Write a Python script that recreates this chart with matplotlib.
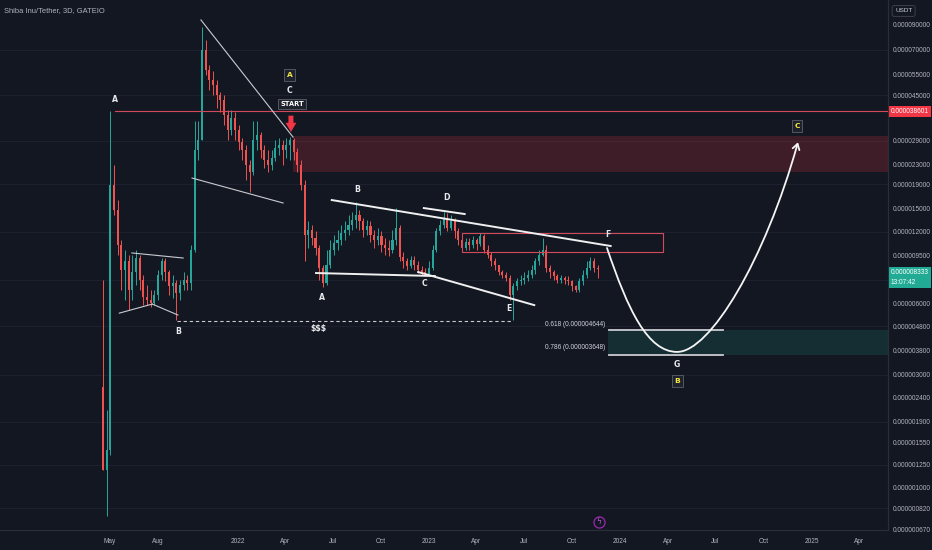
import numpy as np
import pandas as pd
import matplotlib
matplotlib.use("Agg")
import matplotlib.pyplot as plt
import matplotlib.dates as mdates
from matplotlib.path import Path
from matplotlib.patches import FancyArrowPatch, Rectangle
from matplotlib import transforms
from matplotlib import font_manager as fm

# ---------------- data (prices in millionths of USDT) ----------------
U = 1e-6
candle_start = "2021-04-18"      # weekly candles
first_open = 2.66
closes = [1.19, 1.45, 18.87, 14.81, 10.54, 8.28, 9.03, 6.81, 8.12, 9.30,
          7.52, 6.37, 6.19, 6.01, 6.49, 7.88, 9.03, 8.12, 7.09, 7.30,
          6.62, 7.16, 7.52, 7.30, 10.05, 26.50, 29.21, 69.9, 57.6, 52.3,
          49.8, 45.2, 43.0, 37.2, 32.2, 36.2, 32.2, 28.6, 26.5, 22.9,
          21.4, 29.2, 30.65, 26.5, 24.06, 22.9, 24.5, 27.0, 27.8, 26.5,
          27.8, 29.2, 26.0, 22.9, 18.9, 11.6, 12.2, 11.3, 10.25, 8.44,
          7.30, 8.68, 10.05, 10.76, 11.07, 11.85, 12.2, 12.8, 13.4, 14.1,
          13.3, 12.2, 12.7, 11.6, 11.07, 11.5, 10.54, 10.25, 10.05, 11.07,
          12.4, 9.39, 9.03, 8.60, 9.12, 8.68, 8.28, 8.12, 7.96, 8.44,
          10.05, 12.1, 12.8, 13.7, 12.4, 13.3, 12.1, 11.07, 10.25, 10.86,
          10.54, 11.07, 10.65, 11.5, 10.05, 9.57, 9.03, 8.68, 8.12, 7.88,
          7.66, 6.49, 7.09, 7.45, 7.52, 7.66, 7.88, 8.28, 9.03, 9.57,
          10.05, 8.44, 8.12, 7.81, 7.52, 7.66, 7.52, 7.45, 7.09, 6.81,
          7.45, 7.88, 8.44, 9.03, 8.44, 8.333]
highs = [7.52, 2.13, 38.6, 22.92, 16.32, 11.07, 10.05, 9.57, 9.57, 10.05,
         9.57, 7.88, 7.16, 6.81, 6.81, 8.28, 9.30, 9.30, 8.28, 7.88,
         7.52, 7.52, 8.12, 7.88, 10.54, 35.13, 35.13, 87.4, 77.0, 60.4,
         57.1, 52.3, 46.5, 45.2, 39.1, 39.1, 38.3, 33.8, 29.8, 27.8,
         24.06, 35.1, 35.1, 31.6, 27.8, 26.5, 26.5, 29.2, 29.8, 29.2,
         29.8, 30.1, 29.8, 27.0, 24.06, 19.8, 13.3, 12.8, 12.1, 10.54,
         8.68, 10.05, 11.07, 11.6, 12.2, 12.8, 13.3, 14.11, 14.5, 16.0,
         14.8, 13.7, 13.4, 13.3, 12.2, 12.4, 12.1, 11.3, 11.07, 12.2,
         15.1, 12.8, 9.86, 9.30, 9.49, 9.49, 9.03, 8.60, 8.44, 9.03,
         10.54, 12.4, 13.4, 14.5, 14.4, 14.1, 13.7, 12.4, 11.6, 11.3,
         11.3, 11.5, 11.3, 11.85, 11.74, 10.54, 9.86, 9.30, 8.68, 8.28,
         8.12, 7.88, 7.30, 7.66, 7.88, 8.12, 8.28, 8.68, 9.30, 10.05,
         11.3, 10.54, 8.68, 8.28, 7.96, 7.88, 7.81, 7.81, 7.52, 7.16,
         7.66, 8.28, 9.03, 9.39, 9.30, 8.68]
lows = [1.19, 0.76, 1.38, 14.11, 9.57, 6.81, 6.19, 5.61, 6.19, 7.16,
        6.81, 5.89, 5.89, 5.78, 5.89, 6.19, 7.52, 7.45, 6.49, 6.31,
        5.10, 6.19, 6.81, 6.81, 6.81, 9.86, 24.06, 29.21, 54.9, 47.4,
        45.2, 39.85, 38.3, 33.8, 29.21, 30.65, 29.2, 26.5, 24.06, 19.8,
        17.6, 20.8, 26.5, 24.5, 22.3, 21.4, 21.8, 23.8, 25.2, 22.9,
        24.5, 24.06, 24.06, 21.4, 18.0, 9.03, 10.25, 10.54, 9.57, 7.52,
        7.02, 7.16, 8.44, 9.57, 10.05, 10.54, 11.07, 11.6, 12.2, 12.4,
        12.2, 11.4, 11.6, 10.86, 10.25, 10.54, 9.86, 9.57, 9.49, 9.76,
        10.54, 9.03, 8.44, 8.28, 8.44, 8.28, 8.04, 7.88, 7.81, 7.81,
        8.28, 9.86, 11.6, 12.4, 12.1, 12.2, 11.3, 10.54, 9.86, 10.05,
        10.05, 10.25, 10.05, 10.45, 9.76, 9.30, 8.60, 8.28, 7.88, 7.66,
        7.45, 6.19, 5.10, 6.81, 7.16, 7.23, 7.45, 7.66, 7.96, 8.68,
        9.49, 8.12, 7.66, 7.52, 7.30, 7.30, 7.23, 7.16, 6.75, 6.68,
        6.68, 7.16, 7.66, 8.28, 8.12, 7.66]

y_ticks = [90, 70, 55, 45, 29, 23, 19, 15, 12, 9.5, 6.0, 4.8, 3.8, 3.0,
           2.4, 1.9, 1.55, 1.25, 1.0, 0.82, 0.67]
grid_levels = [70, 45, 29, 19, 12, 7.5, 4.8, 3.0, 1.9, 1.25, 0.82]
x_tick_dates = ["2021-05-01", "2021-08-01", "2022-01-01", "2022-04-01", "2022-07-01",
                "2022-10-01", "2023-01-01", "2023-04-01", "2023-07-01", "2023-10-01",
                "2024-01-01", "2024-04-01", "2024-07-01", "2024-10-01", "2025-01-01",
                "2025-04-01"]
x_tick_labels = ["May", "Aug", "2022", "Apr", "Jul", "Oct", "2023", "Apr", "Jul", "Oct",
                 "2024", "Apr", "Jul", "Oct", "2025", "Apr"]

may_high = 38.601
last_price = 8.333
fib_618 = 4.644
fib_786 = 3.648
supply_zone = (21.4, 30.4)

# projected path (cubic Bezier control points)
curve_dates = ["2023-12-07", "2024-01-16", "2024-02-23", "2024-04-19",
               "2024-06-21", "2024-10-04", "2024-12-06"]
curve_prices = [10.25, 5.61, 3.74, 3.74, 3.74, 9.12, 28.6]

# trend lines: (date0, price0, date1, price1)
thin_lines = [("2021-10-22", 93.6, "2022-04-16", 30.06),
              ("2021-10-05", 20.2, "2022-03-28", 15.86),
              ("2021-06-12", 9.77, "2021-09-18", 9.30),
              ("2021-05-19", 5.45, "2021-07-21", 5.95),
              ("2021-07-21", 5.95, "2021-09-08", 5.35)]
thick_lines = [("2022-06-29", 16.32, "2023-12-14", 10.45),
               ("2022-12-22", 15.1, "2023-03-10", 14.25),
               ("2022-05-30", 8.04, "2023-01-12", 7.81),
               ("2022-12-11", 8.12, "2023-07-21", 5.89)]

# ---------------- helpers ----------------
def D(s):
    return mdates.date2num(pd.Timestamp(s))

def has_font(name):
    try:
        fm.findfont(fm.FontProperties(family=name), fallback_to_default=False)
        return True
    except Exception:
        return False

narrow = has_font("Liberation Sans Narrow")
axis_font = "Liberation Sans Narrow" if narrow else "Liberation Sans"
axis_size = 5.4 if narrow else 4.7

BG = "#131722"
TXT = "#b2b5be"
GREEN = "#26a69a"
RED = "#ef5350"
LINE_RED = "#f23645"

fig = plt.figure(figsize=(9.32, 5.5), dpi=100, facecolor=BG)
ax = fig.add_axes([0, 20 / 550, 888 / 932, 530 / 550])
ax.set_facecolor(BG)
ax.set_yscale("log")
ax.set_ylim(0.665 * U, 113.6 * U)
ax.set_xlim(D("2020-10-03"), D("2025-05-27"))

# grid
for g in grid_levels:
    ax.axhline(g * U, color="#1e2230", lw=0.7, zorder=0)

# candles
dates = pd.date_range(candle_start, periods=len(closes), freq="7D")
xs = mdates.date2num(dates)
c = np.array(closes) * U
o = np.concatenate([[first_open], np.array(closes[:-1])]) * U
h = np.array(highs) * U
l = np.array(lows) * U
cols = np.where(c >= o, GREEN, RED)
ax.vlines(xs, l, h, colors=cols, lw=0.7, zorder=3)
ax.bar(xs, np.abs(c - o), bottom=np.minimum(o, c), width=4.0, color=cols,
       linewidth=0, zorder=4)

right = D("2025-05-27")

# May high line and supply zone
ax.plot([D("2021-05-11"), right], [may_high * U, may_high * U], color="#d04a5c",
        lw=0.8, zorder=5)
ax.add_patch(Rectangle((D("2022-04-16"), supply_zone[0] * U), right - D("2022-04-16"),
                       (supply_zone[1] - supply_zone[0]) * U, facecolor=LINE_RED,
                       alpha=0.2, lw=0, zorder=5))
# F box
ax.add_patch(Rectangle((D("2023-03-05"), 9.86 * U), D("2024-03-23") - D("2023-03-05"),
                       (11.85 - 9.86) * U, facecolor="none", edgecolor="#d04a5c",
                       lw=0.8, zorder=5))
# demand (fib) zone
ax.add_patch(Rectangle((D("2023-12-09"), fib_786 * U), right - D("2023-12-09"),
                       (fib_618 - fib_786) * U, facecolor="#22ab94", alpha=0.16, lw=0,
                       zorder=5))
for lv in (fib_618, fib_786):
    ax.plot([D("2023-12-10"), D("2024-07-16")], [lv * U, lv * U], color="#c9cbd1",
            lw=1.3, zorder=6)
ax.text(D("2023-12-03"), 4.90 * U, "0.618 (0.000004644)", ha="right", va="center",
        fontsize=4.7, color="#d1d4dc", family=axis_font, zorder=7)
ax.text(D("2023-12-03"), 3.89 * U, "0.786 (0.000003648)", ha="right", va="center",
        fontsize=4.7, color="#d1d4dc", family=axis_font, zorder=7)

# dashed liquidity line
ax.plot([D("2021-09-06"), D("2023-06-06")], [5.05 * U, 5.05 * U], color="#c9cbd1",
        lw=0.8, ls=(0, (3, 2.5)), zorder=6)

# trend lines
for d0, p0, d1, p1 in thin_lines:
    ax.plot([D(d0), D(d1)], [p0 * U, p1 * U], color="#c9cbd1", lw=0.8, zorder=6)
for d0, p0, d1, p1 in thick_lines:
    ax.plot([D(d0), D(d1)], [p0 * U, p1 * U], color="#f0f0f0", lw=1.4, zorder=6)

# projected curve with arrow
verts = list(zip([D(d) for d in curve_dates], [p * U for p in curve_prices]))
codes = [Path.MOVETO] + [Path.CURVE4] * 6
arr = FancyArrowPatch(path=Path(verts, codes), arrowstyle="->,head_length=4,head_width=2.5",
                      color="#f5f5f5", lw=1.3, zorder=7)
ax.add_patch(arr)

# red start arrow
ax.annotate("", xy=(D("2022-04-12"), 31.6 * U), xytext=(D("2022-04-12"), 37.0 * U),
            arrowprops=dict(arrowstyle="simple,head_length=0.55,head_width=0.65,tail_width=0.3",
                            color=LINE_RED, lw=0, shrinkA=0, shrinkB=0, mutation_scale=12),
            zorder=8)

# wave labels
lab = dict(color="#e8e9ec", fontsize=5.6, fontweight="bold", ha="center", va="center",
           zorder=8)
for s, d, p in [("A", "2021-05-11", 43.1), ("B", "2021-09-09", 4.58),
                ("C", "2022-04-10", 47.4), ("B", "2022-08-16", 18.16),
                ("A", "2022-06-10", 6.37), ("D", "2023-02-04", 16.8),
                ("C", "2022-12-24", 7.23), ("E", "2023-06-03", 5.72),
                ("F", "2023-12-09", 11.74), ("$$$", "2022-06-03", 4.71),
                ("G", "2024-04-19", 3.32)]:
    ax.text(D(d), p * U, s, **lab)

box = dict(boxstyle="square,pad=0.35", fc="#1e222d", ec="#5d606b", lw=0.6)
for s, d, p in [("A", "2022-04-10", 54.9), ("B", "2024-04-19", 2.82),
                ("C", "2024-12-04", 33.5)]:
    ax.text(D(d), p * U, s, color="#f5e642", fontsize=5.4, fontweight="bold",
            ha="center", va="center", bbox=box, zorder=8)
ax.text(D("2022-04-14"), 41.4 * U, "START", color="#ffffff", fontsize=4.8,
        fontweight="bold", ha="center", va="center", zorder=8,
        bbox=dict(boxstyle="square,pad=0.3", fc="#1e222d", ec="#5d606b", lw=0.6))

# lightning icon
ax.plot([D("2023-11-22")], [0.72 * U], marker="o", ms=8, mfc="none", mec="#9c27b0",
        mew=0.9, zorder=8)
ax.text(D("2023-11-22"), 0.72 * U, "\u03df", color="#b45ad2", fontsize=5.5,
        ha="center", va="center", family="DejaVu Sans", zorder=9)

# axes styling
for sp in ("top", "left"):
    ax.spines[sp].set_visible(False)
for sp in ("bottom", "right"):
    ax.spines[sp].set_color("#2a2e39")
    ax.spines[sp].set_linewidth(0.9)

ax.yaxis.tick_right()
ax.yaxis.set_minor_locator(matplotlib.ticker.NullLocator())
ax.set_yticks([t * U for t in y_ticks])
ax.set_yticklabels([f"{t * U:.9f}" for t in y_ticks])
ax.tick_params(axis="y", which="both", length=0, pad=3.6, labelsize=axis_size,
               labelcolor=TXT)
for t in ax.get_yticklabels():
    t.set_family(axis_font)

ax.set_xticks([D(d) for d in x_tick_dates])
ax.set_xticklabels(x_tick_labels)
ax.xaxis.set_minor_locator(matplotlib.ticker.NullLocator())
ax.tick_params(axis="x", length=0, pad=5.5, labelsize=axis_size, labelcolor=TXT)
for t in ax.get_xticklabels():
    t.set_family(axis_font)

# price labels on the axis
bt = transforms.blended_transform_factory(ax.transAxes, ax.transData)
ax.text(1 + 3 / 888, may_high * U, "0.000038601", transform=bt, ha="left", va="center",
        fontsize=axis_size, color="white", family=axis_font, clip_on=False, zorder=10,
        bbox=dict(boxstyle="square,pad=0.35", fc=LINE_RED, ec="none"))
ax.text(1 + 3 / 888, last_price * U, "0.000008333\n13:07:42", transform=bt, ha="left",
        va="top", fontsize=axis_size, color="white", family=axis_font, clip_on=False,
        linespacing=1.45, zorder=10,
        bbox=dict(boxstyle="square,pad=0.35", fc="#22ab94", ec="none"))

# title and currency box
fig.text(4 / 932, 1 - 11 / 550, "Shiba Inu/Tether, 3D, GATEIO", ha="left", va="center",
         fontsize=5.4, color=TXT, family="Liberation Sans")
fig.text(895 / 932, 1 - 11 / 550, "USDT", ha="left", va="center", fontsize=4.6,
         color="#d1d4dc", family=axis_font,
         bbox=dict(boxstyle="round,pad=0.45,rounding_size=0.3", fc=BG, ec="#434651", lw=0.6))

fig.savefig("out.png", dpi=100, facecolor=BG)
